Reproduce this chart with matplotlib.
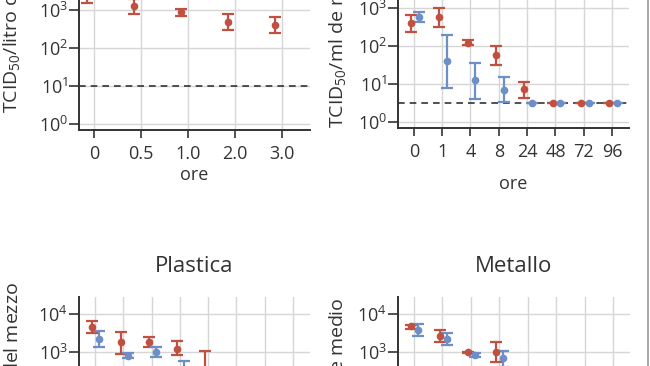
import numpy as np
import matplotlib
matplotlib.use("Agg")
import matplotlib.pyplot as plt
from matplotlib.ticker import LogLocator, NullLocator
from matplotlib.lines import Line2D

plt.rcParams['font.family'] = ['Open Sans', 'DejaVu Sans']
plt.rcParams['mathtext.fontset'] = 'custom'
plt.rcParams['mathtext.rm'] = 'Open Sans'
plt.rcParams['mathtext.it'] = 'Open Sans:italic'
plt.rcParams['mathtext.bf'] = 'Open Sans:bold'

RED = '#c0503f'
BLUE = '#6b8fc6'

# ---- dati (log10 TCID50) ----
# Aerosol (solo la parte visibile)
aer_labels = ['0', '0.5', '1.0', '2.0', '3.0']
aer_red = [3.40, 3.10, 2.94, 2.69, 2.61]
aer_red_lo = [3.18, 2.88, 2.85, 2.46, 2.39]
aer_red_hi = [3.60, 3.30, 3.02, 2.89, 2.82]
aer_limit = 1.0

# pannello in alto a destra
hours = ['0', '1', '4', '8', '24', '48', '72', '96']
cu_red = [2.59, 2.76, 2.08, 1.75, 0.86, 0.5, 0.5, 0.5]
cu_red_lo = [2.37, 2.50, 2.02, 1.49, 0.63, 0.5, 0.5, 0.5]
cu_red_hi = [2.81, 3.00, 2.15, 2.00, 1.05, 0.5, 0.5, 0.5]
cu_blue = [2.75, 1.60, 1.10, 0.85, 0.5, 0.5, 0.5, 0.5]
cu_blue_lo = [2.63, 0.88, 0.61, 0.52, 0.5, 0.5, 0.5, 0.5]
cu_blue_hi = [2.89, 2.30, 1.55, 1.17, 0.5, 0.5, 0.5, 0.5]
cu_limit = 0.5

# Plastica
pl_red = [3.65, 3.26, 3.25, 3.08, 2.30]
pl_red_lo = [3.49, 2.95, 3.12, 2.92, 1.90]
pl_red_hi = [3.82, 3.53, 3.39, 3.29, 3.03]
pl_blue = [3.34, 2.90, 3.00, 2.50]
pl_blue_lo = [3.12, 2.83, 2.86, 2.20]
pl_blue_hi = [3.56, 2.97, 3.14, 2.77]

# Metallo
me_red = [3.67, 3.42, 2.99, 3.00]
me_red_lo = [3.61, 3.25, 2.97, 2.73]
me_red_hi = [3.70, 3.58, 3.01, 3.27]
me_blue = [3.58, 3.33, 2.92, 2.83]
me_blue_lo = [3.42, 3.17, 2.86, 2.60]
me_blue_hi = [3.74, 3.49, 2.97, 3.03]

W, H = 650, 366
fig = plt.figure(figsize=(6.5, 3.66), dpi=100)


def make_ax(x0, x1, ybot, xlim, ticklabels):
    # ybot in pixel dall'alto; 38 px per decade, ylim 10^-0.16 .. 10^4.45
    lo, hi = -0.16, 4.45
    h = (hi - lo) * 38
    ax = fig.add_axes([x0 / W, 1 - ybot / H, (x1 - x0) / W, h / H])
    ax.set_yscale('log')
    ax.set_ylim(10 ** lo, 10 ** hi)
    ax.set_xlim(*xlim)
    ax.yaxis.set_major_locator(LogLocator(base=10, numticks=10))
    ax.yaxis.set_minor_locator(NullLocator())
    ax.set_xticks(range(len(ticklabels)))
    ax.set_xticklabels(ticklabels)
    ax.grid(True, color='#d6d6d6', linewidth=1.0)
    ax.set_axisbelow(True)
    for s in ['top', 'right']:
        ax.spines[s].set_visible(False)
    for s in ['left', 'bottom']:
        ax.spines[s].set_color('#333333')
        ax.spines[s].set_linewidth(1.4)
    ax.tick_params(axis='both', colors='#333333', labelcolor='#333333',
                   labelsize=13, width=1.2)
    ax.tick_params(axis='x', length=6, pad=5)
    ax.tick_params(axis='y', length=7, pad=1)
    return ax


def series(ax, vals, lo, hi, off, color):
    x = np.arange(len(vals)) + off
    v = 10 ** np.array(vals)
    err = [v - 10 ** np.array(lo), 10 ** np.array(hi) - v]
    ax.errorbar(x, v, yerr=err, fmt='o', color=color, ms=4.5,
                elinewidth=1.6, capsize=4, capthick=1.6, zorder=3)


# alto sinistra
ax1 = make_ax(79, 310, 130, (-0.32, 4.6), aer_labels)
series(ax1, aer_red, aer_red_lo, aer_red_hi, -0.15, RED)
ax1.axhline(10 ** aer_limit, color='#333333', ls=(0, (4, 3)), lw=1.2, zorder=2)
ax1.set_xlabel('ore', fontsize=13, color='#333333', labelpad=2)

# alto destra
ax2 = make_ax(398, 629, 128, (-0.56, 7.6), hours)
series(ax2, cu_red, cu_red_lo, cu_red_hi, -0.1, RED)
series(ax2, cu_blue, cu_blue_lo, cu_blue_hi, 0.17, BLUE)
ax2.axhline(10 ** cu_limit, color='#333333', ls=(0, (4, 3)), lw=1.2, zorder=2)
ax2.set_xlabel('ore', fontsize=13, color='#333333', labelpad=10)

# basso sinistra
ax3 = make_ax(79, 310, 472, (-0.57, 7.6), hours)
series(ax3, pl_red, pl_red_lo, pl_red_hi, -0.1, RED)
series(ax3, pl_blue, pl_blue_lo, pl_blue_hi, 0.15, BLUE)
ax3.set_title('Plastica', fontsize=16, color='#333333', pad=18)

# basso destra
ax4 = make_ax(398, 630, 472, (-0.56, 7.6), hours)
series(ax4, me_red, me_red_lo, me_red_hi, -0.1, RED)
series(ax4, me_blue, me_blue_lo, me_blue_hi, 0.15, BLUE)
ax4.set_title('Metallo', fontsize=16, color='#333333', pad=18)

# etichette asse y (tagliate dal ritaglio)
lab = dict(rotation=90, fontsize=14, color='#333333', ha='center')
fig.text(12 / W, 1 - 113 / H, 'TCID$_{50}$/litro di aria', va='bottom', **lab)
fig.text(337 / W, 1 - 128 / H, 'TCID$_{50}$/ml de medio', va='bottom', **lab)
fig.text(13 / W, 1 - 282 / H, 'TCID$_{50}$/ml del mezzo', va='top', **lab)
fig.text(337 / W, 1 - 297 / H, 'TCID$_{50}$/ml de medio', va='top', **lab)

# bordo destro dell'immagine
fig.add_artist(Line2D([647.5 / W, 647.5 / W], [0, 1], color='#9a9a9a', lw=1.2))

fig.savefig('out.png', dpi=100)
